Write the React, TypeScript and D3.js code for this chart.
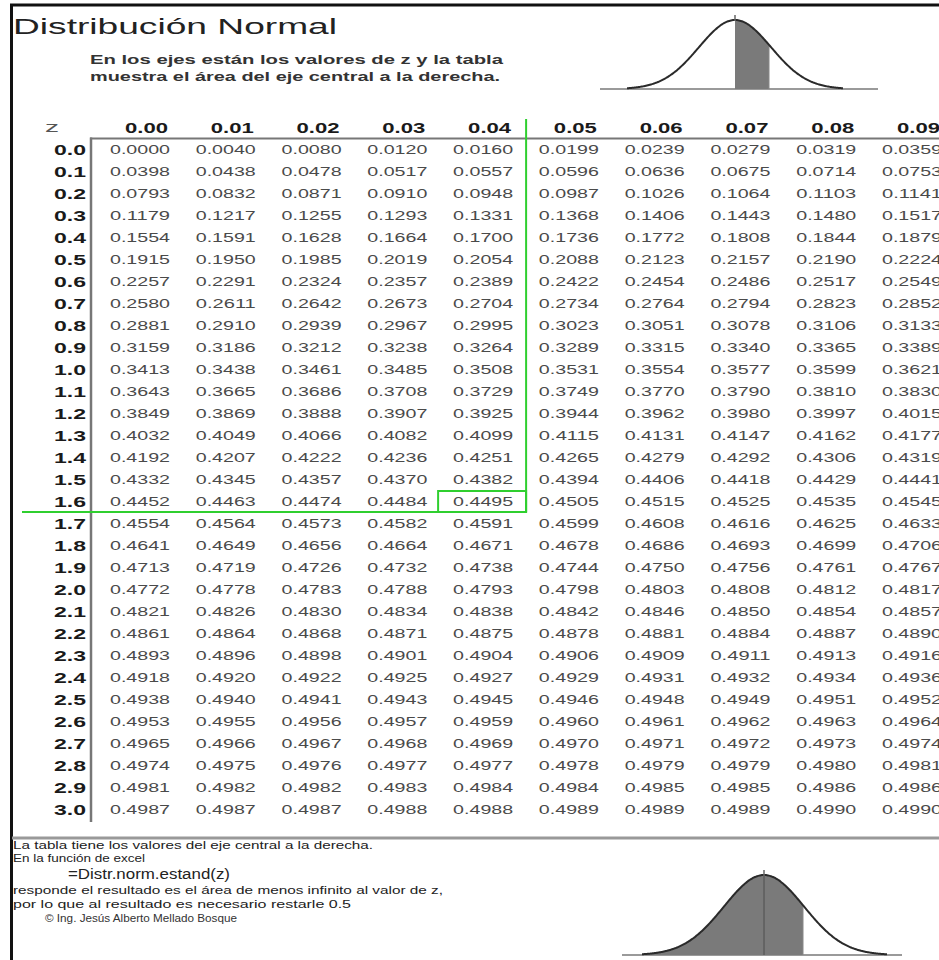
import React from "react";
import * as d3 from "d3";

const zRows = ["0.0","0.1","0.2","0.3","0.4","0.5","0.6","0.7","0.8","0.9","1.0","1.1","1.2","1.3","1.4","1.5","1.6","1.7","1.8","1.9","2.0","2.1","2.2","2.3","2.4","2.5","2.6","2.7","2.8","2.9","3.0"];
const colHeaders = ["0.00","0.01","0.02","0.03","0.04","0.05","0.06","0.07","0.08","0.09"];
const areaValues: number[][] = [
  [0.0000,0.0040,0.0080,0.0120,0.0160,0.0199,0.0239,0.0279,0.0319,0.0359],
  [0.0398,0.0438,0.0478,0.0517,0.0557,0.0596,0.0636,0.0675,0.0714,0.0753],
  [0.0793,0.0832,0.0871,0.0910,0.0948,0.0987,0.1026,0.1064,0.1103,0.1141],
  [0.1179,0.1217,0.1255,0.1293,0.1331,0.1368,0.1406,0.1443,0.1480,0.1517],
  [0.1554,0.1591,0.1628,0.1664,0.1700,0.1736,0.1772,0.1808,0.1844,0.1879],
  [0.1915,0.1950,0.1985,0.2019,0.2054,0.2088,0.2123,0.2157,0.2190,0.2224],
  [0.2257,0.2291,0.2324,0.2357,0.2389,0.2422,0.2454,0.2486,0.2517,0.2549],
  [0.2580,0.2611,0.2642,0.2673,0.2704,0.2734,0.2764,0.2794,0.2823,0.2852],
  [0.2881,0.2910,0.2939,0.2967,0.2995,0.3023,0.3051,0.3078,0.3106,0.3133],
  [0.3159,0.3186,0.3212,0.3238,0.3264,0.3289,0.3315,0.3340,0.3365,0.3389],
  [0.3413,0.3438,0.3461,0.3485,0.3508,0.3531,0.3554,0.3577,0.3599,0.3621],
  [0.3643,0.3665,0.3686,0.3708,0.3729,0.3749,0.3770,0.3790,0.3810,0.3830],
  [0.3849,0.3869,0.3888,0.3907,0.3925,0.3944,0.3962,0.3980,0.3997,0.4015],
  [0.4032,0.4049,0.4066,0.4082,0.4099,0.4115,0.4131,0.4147,0.4162,0.4177],
  [0.4192,0.4207,0.4222,0.4236,0.4251,0.4265,0.4279,0.4292,0.4306,0.4319],
  [0.4332,0.4345,0.4357,0.4370,0.4382,0.4394,0.4406,0.4418,0.4429,0.4441],
  [0.4452,0.4463,0.4474,0.4484,0.4495,0.4505,0.4515,0.4525,0.4535,0.4545],
  [0.4554,0.4564,0.4573,0.4582,0.4591,0.4599,0.4608,0.4616,0.4625,0.4633],
  [0.4641,0.4649,0.4656,0.4664,0.4671,0.4678,0.4686,0.4693,0.4699,0.4706],
  [0.4713,0.4719,0.4726,0.4732,0.4738,0.4744,0.4750,0.4756,0.4761,0.4767],
  [0.4772,0.4778,0.4783,0.4788,0.4793,0.4798,0.4803,0.4808,0.4812,0.4817],
  [0.4821,0.4826,0.4830,0.4834,0.4838,0.4842,0.4846,0.4850,0.4854,0.4857],
  [0.4861,0.4864,0.4868,0.4871,0.4875,0.4878,0.4881,0.4884,0.4887,0.4890],
  [0.4893,0.4896,0.4898,0.4901,0.4904,0.4906,0.4909,0.4911,0.4913,0.4916],
  [0.4918,0.4920,0.4922,0.4925,0.4927,0.4929,0.4931,0.4932,0.4934,0.4936],
  [0.4938,0.4940,0.4941,0.4943,0.4945,0.4946,0.4948,0.4949,0.4951,0.4952],
  [0.4953,0.4955,0.4956,0.4957,0.4959,0.4960,0.4961,0.4962,0.4963,0.4964],
  [0.4965,0.4966,0.4967,0.4968,0.4969,0.4970,0.4971,0.4972,0.4973,0.4974],
  [0.4974,0.4975,0.4976,0.4977,0.4977,0.4978,0.4979,0.4979,0.4980,0.4981],
  [0.4981,0.4982,0.4982,0.4983,0.4984,0.4984,0.4985,0.4985,0.4986,0.4986],
  [0.4987,0.4987,0.4987,0.4988,0.4988,0.4989,0.4989,0.4989,0.4990,0.4990],
];
const titleText = "Distribución Normal";
const subtitleLines = [
  "En los ejes están los valores de z y la tabla",
  "muestra el área del eje central a la derecha.",
];
const footerLines = [
  "La tabla tiene los valores del eje central a la derecha.",
  "En la función de excel",
  "=Distr.norm.estand(z)",
  "responde el resultado es el área de menos infinito al valor de z,",
  "por lo que al resultado es necesario restarle 0.5",
  "© Ing. Jesús Alberto Mellado Bosque",
];
const highlightRow = 16;
const highlightCol = 4;

const FONT = "'Liberation Sans', Arial, Helvetica, sans-serif";
const W = 939;
const H = 960;

function T(props: { x: number; y: number; w: number; size: number; bold?: boolean; fill?: string; children: React.ReactNode }) {
  return (
    <text
      x={props.x}
      y={props.y}
      fontSize={props.size}
      fontWeight={props.bold ? "bold" : "normal"}
      fill={props.fill || "#222"}
      textLength={props.w}
      lengthAdjust="spacingAndGlyphs"
    >
      {props.children}
    </text>
  );
}

function Bell(props: { cx: number; sigma: number; base: number; peak: number; x0: number; x1: number; lineX0: number; lineX1: number; shadeFrom: number; shadeTo: number; centerLine?: boolean }) {
  const { cx, sigma, base, peak, x0, x1, lineX0, lineX1, shadeFrom, shadeTo, centerLine } = props;
  const yScale = d3.scaleLinear().domain([0, 1]).range([base, peak]);
  const f = (x: number) => Math.exp(-0.5 * ((x - cx) / sigma) ** 2);
  const xs = d3.range(x0, x1 + 0.5, 1);
  const line = d3.line<number>().x((d) => d).y((d) => yScale(f(d))).curve(d3.curveBasis);
  const area = d3.area<number>().x((d) => d).y0(base).y1((d) => yScale(f(d))).curve(d3.curveBasis);
  const shadeXs = d3.range(shadeFrom, shadeTo + 0.5, 1);
  return (
    <g>
      <line x1={lineX0} x2={lineX1} y1={base} y2={base} stroke="#9a9a9a" strokeWidth={2} />
      <path d={area(shadeXs) || ""} fill="#7a7a7a" />
      <line x1={shadeTo} x2={shadeTo} y1={base} y2={yScale(f(shadeTo))} stroke="#888" strokeWidth={1} />
      {centerLine && <line x1={cx} x2={cx} y1={base} y2={peak} stroke="#555" strokeWidth={1.2} />}
      <path d={line(xs) || ""} fill="none" stroke="#2a2a2a" strokeWidth={2} />
      <line x1={cx} x2={cx} y1={peak - 5} y2={peak + 1} stroke="#666" strokeWidth={1.5} />
    </g>
  );
}

export default function App() {
  const xRight = d3.scaleLinear().domain([0, 9]).range([170, 942]);
  const yRow = d3.scaleLinear().domain([0, 30]).range([149.5, 809.5]);
  const valueW = 60;
  const headW = 43;
  const labelW = 32;
  const green = "#2fcf2f";
  const hx0 = xRight(highlightCol) - 75;
  const hx1 = xRight(highlightCol) + 13;
  const hy0 = yRow(highlightRow) - 10.5;
  const hy1 = yRow(highlightRow) + 10.5;

  return (
    <svg
      width={W}
      height={H}
      viewBox={`0 0 ${W} ${H}`}
      style={{ position: "absolute", left: 0, top: 0, display: "block", background: "#fff" }}
      fontFamily={FONT}
    >
      <rect x={0} y={0} width={W} height={H} fill="#fff" />
      {/* frame */}
      <line x1={11.5} x2={11.5} y1={4} y2={H} stroke="#111" strokeWidth={3} />
      <line x1={10} x2={W} y1={5} y2={5} stroke="#111" strokeWidth={3} />

      {/* title */}
      <T x={13} y={34} w={324} size={22}>{titleText}</T>
      <T x={90} y={64} w={413} size={12} bold fill="#333">{subtitleLines[0]}</T>
      <T x={90} y={81} w={410} size={12} bold fill="#333">{subtitleLines[1]}</T>

      {/* top bell */}
      <Bell cx={735} sigma={36} base={89} peak={20} x0={627} x1={843} lineX0={600} lineX1={878} shadeFrom={735} shadeTo={769} />

      {/* header */}
      <T x={45} y={132} w={14} size={14} fill="#555">z</T>
      {colHeaders.map((h, i) => (
        <T key={h} x={xRight(i) - 2 - headW} y={133} w={headW} size={15.5} bold fill="#1a1a1a">{h}</T>
      ))}
      <line x1={90} x2={W} y1={138.5} y2={138.5} stroke="#777" strokeWidth={2} />
      <line x1={91} x2={91} y1={137.5} y2={822} stroke="#777" strokeWidth={2.5} />

      {/* rows */}
      {zRows.map((z, r) => (
        <g key={z}>
          <T x={86 - labelW} y={yRow(r) + 5} w={labelW} size={14.5} bold fill="#1a1a1a">{z}</T>
          {areaValues[r].map((v, c) => (
            <T key={c} x={xRight(c) - valueW} y={yRow(r) + 4.7} w={valueW} size={13} fill="#4a4a4a">{v.toFixed(4)}</T>
          ))}
        </g>
      ))}

      {/* green highlight */}
      <line x1={hx1} x2={hx1} y1={119} y2={hy1} stroke={green} strokeWidth={2} />
      <rect x={hx0} y={hy0} width={hx1 - hx0} height={hy1 - hy0} fill="none" stroke={green} strokeWidth={2} />
      <line x1={22} x2={hx0} y1={hy1} y2={hy1} stroke={green} strokeWidth={2} />

      {/* separator */}
      <line x1={12} x2={W} y1={838} y2={838} stroke="#999" strokeWidth={3} />

      {/* footer */}
      <T x={13} y={849} w={360} size={11.5}>{footerLines[0]}</T>
      <T x={13} y={862} w={132} size={11.5}>{footerLines[1]}</T>
      <T x={68} y={879} w={162} size={14}>{footerLines[2]}</T>
      <T x={13} y={894} w={430} size={11.5}>{footerLines[3]}</T>
      <T x={13} y={908} w={338} size={11.5}>{footerLines[4]}</T>
      <T x={45} y={922} w={192} size={11.5} fill="#333">{footerLines[5]}</T>

      {/* bottom bell */}
      <Bell cx={764} sigma={40} base={955} peak={875} x0={642} x1={887} lineX0={622} lineX1={902} shadeFrom={642} shadeTo={803} centerLine />
    </svg>
  );
}
